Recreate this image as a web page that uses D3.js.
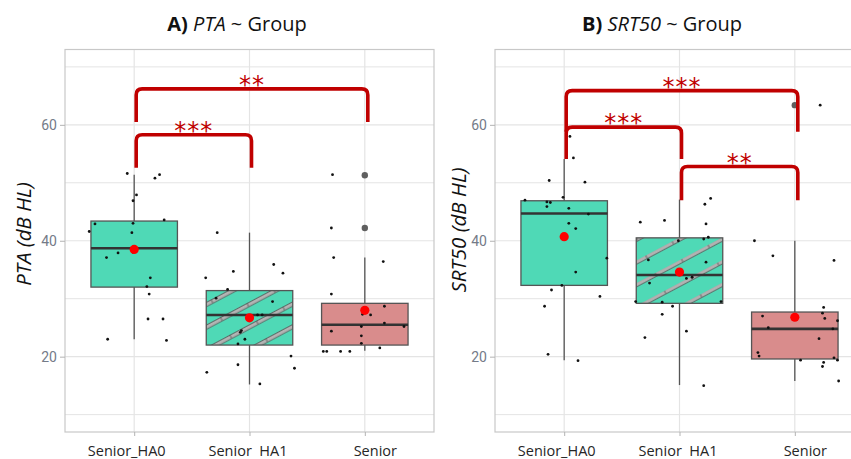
<!DOCTYPE html>
<html>
<head>
<meta charset="utf-8">
<script src="https://cdn.jsdelivr.net/npm/d3@7"></script>
<style>
  body { margin: 0; background: #fff; }
  svg { display: block; }
</style>
</head>
<body>
<div id="chart"></div>
<script>
// groups on the x axis
const groups = ["Senior_HA0", "Senior_HA1", "Senior"];
const groupLabels = ["Senior_HA0", "Senior  HA1", "Senior"];
const yTicks = [20, 40, 60];
const yMinorTicks = [10, 30, 50, 70];

// box stats: [lower whisker, q1, median, q3, upper whisker, mean]
const ptaStats = [
    [23.0, 32.0, 38.7, 43.4, 51.4, 38.5],
    [15.2, 22.0, 27.2, 31.4, 41.4, 26.7],
    [21.0, 22.0, 25.5, 29.2, 37.1, 28.0]
];
const srtStats = [
    [19.4, 32.3, 44.7, 46.9, 54.1, 40.7],
    [15.1, 29.2, 34.1, 40.5, 47.1, 34.6],
    [15.8, 19.6, 24.8, 27.7, 40.0, 26.8]
];

// jittered points: [group index, jitter (in category steps), value]
const ptaPoints = [
    [0, -0.06, 51.6], [0, 0.18, 50.8], [0, 0.22, 51.4], [0, 0.02, 47.9], [0, -0.01, 46.9],
    [0, -0.34, 42.9], [0, -0.01, 43.0], [0, 0.26, 43.6], [0, -0.39, 41.6], [0, -0.02, 41.4],
    [0, -0.24, 37.1], [0, -0.14, 37.9], [0, -0.01, 38.0], [0, 0.14, 33.6], [0, 0.11, 32.1],
    [0, 0.13, 30.8], [0, 0.12, 26.5], [0, 0.25, 26.5], [0, -0.23, 23.0], [0, 0.28, 22.8],
    [1, -0.28, 41.4], [1, -0.38, 33.6], [1, -0.14, 34.7], [1, 0.21, 35.9], [1, 0.29, 34.4],
    [1, -0.19, 31.6], [1, -0.29, 30.1], [1, 0.20, 29.5], [1, 0.07, 27.2], [1, 0.11, 27.2],
    [1, -0.07, 24.5], [1, -0.08, 24.2], [1, -0.04, 23.0], [1, -0.10, 22.2], [1, 0.36, 20.1],
    [1, 0.39, 18.0], [1, -0.10, 18.6], [1, -0.37, 17.3], [1, 0.09, 15.3],
    [2, -0.29, 42.2], [2, -0.28, 51.4], [2, -0.27, 37.1], [2, 0.16, 36.4], [2, -0.29, 30.8],
    [2, 0.17, 28.7], [2, -0.02, 27.3], [2, 0.05, 27.2], [2, -0.01, 28.0], [2, 0.17, 25.8],
    [2, 0.34, 25.2], [2, -0.03, 25.2], [2, -0.29, 24.4], [2, -0.03, 23.6], [2, -0.03, 22.3],
    [2, 0.13, 21.5], [2, -0.36, 20.9], [2, -0.33, 20.9], [2, -0.21, 20.9], [2, -0.13, 20.9]
];
const srtPoints = [
    [0, 0.05, 58.0], [0, 0.08, 54.3], [0, -0.13, 50.4], [0, 0.18, 50.1], [0, -0.01, 47.5],
    [0, -0.34, 47.0], [0, -0.15, 46.7], [0, -0.12, 46.6], [0, -0.15, 45.9], [0, 0.04, 45.6],
    [0, 0.21, 44.6], [0, 0.04, 43.0], [0, 0.10, 42.1], [0, 0.37, 37.0], [0, 0.10, 34.6],
    [0, -0.02, 32.3], [0, -0.11, 31.5], [0, 0.31, 30.4], [0, -0.17, 28.7], [0, -0.14, 20.4],
    [0, 0.12, 19.3],
    [1, 0.27, 47.3], [1, 0.22, 46.3], [1, -0.34, 43.2], [1, -0.13, 43.5], [1, 0.23, 42.9],
    [1, 0.25, 40.6], [1, 0.21, 40.3], [1, -0.01, 40.0], [1, -0.27, 36.7], [1, 0.23, 36.3],
    [1, 0.06, 33.5], [1, 0.11, 33.7], [1, -0.26, 32.7], [1, -0.15, 29.4], [1, -0.38, 29.5],
    [1, -0.06, 28.7], [1, -0.15, 27.3], [1, 0.06, 24.4], [1, -0.30, 23.3], [1, 0.21, 15.0],
    [1, 0.36, 29.5],
    [2, 0.22, 63.4], [2, -0.35, 40.0], [2, -0.19, 37.4], [2, 0.34, 36.6], [2, 0.25, 28.5],
    [2, 0.24, 27.5], [2, 0.26, 26.6], [2, -0.28, 27.0], [2, 0.37, 26.2], [2, -0.23, 25.0],
    [2, 0.33, 24.8], [2, 0.21, 23.1], [2, -0.32, 20.7], [2, -0.31, 20.1], [2, 0.05, 19.4],
    [2, 0.34, 19.8], [2, 0.37, 19.4], [2, 0.25, 19.0], [2, 0.24, 18.3], [2, 0.38, 15.8]
];

// boxplot outliers: [group index, value]
const ptaOutliers = [[2, 42.2], [2, 51.3]];
const srtOutliers = [[2, 63.4]];

// significance brackets: [from group, to group, bar value, leg end value, label]
const ptaBrackets = [
    [0, 1, 58.3, 52.6, "***"],
    [0, 2, 66.2, 60.5, "**"]
];
const srtBrackets = [
    [0, 1, 59.6, 54.1, "***"],
    [0, 2, 65.9, 58.8, "***"],
    [1, 2, 52.8, 47.0, "**"]
];

const width = 851;
const height = 459;

const svg = d3.select("#chart")
    .append("svg")
    .attr("width", width)
    .attr("height", height)
    .style("font-family", "'Open Sans', sans-serif");

const defs = svg.append("defs");

const turquoise = "#4fd9b6";
const rose = "#d98c8c";
const darkRed = "#c00000";
const gridColor = "#e4e4e4";
const borderColor = "#c8c8c8";

// the x labels sit a little off their ticks in the original
const labelShift = [-8, -2, 10];

const drawPanel = (p) => {

    const panelTop = 49.5;
    const panelBottom = 432;
    const panelWidth = 369;

    const xScale = d3.scalePoint()
        .domain(groups)
        .range([p.left, p.left + panelWidth])
        .padding(0.6);

    const yScale = d3.scaleLinear()
        .domain([7, 73])
        .range([panelBottom, panelTop]);

    const step = xScale.step();
    const xPos = i => xScale(groups[i]);

    // stripe pattern for HA1
    const pat = defs.append("pattern")
        .attr("id", p.id + "-stripes")
        .attr("patternUnits", "userSpaceOnUse")
        .attr("width", 30)
        .attr("height", 20)
        .attr("patternTransform",
            `translate(${xPos(1) - step * 0.375}, ${yScale(p.stats[1][3])}) rotate(-28)`);
    pat.append("rect")
        .attr("x", 0).attr("y", p.stripePhase - 1.8)
        .attr("width", 30).attr("height", 3.6)
        .attr("fill", "#b4b4b4")
        .attr("stroke", "#505050")
        .attr("stroke-width", 0.75);

    const g = svg.append("g");

    // grid
    g.selectAll(".minor")
        .data(yMinorTicks)
        .join("line")
            .attr("x1", p.left).attr("x2", p.left + panelWidth)
            .attr("y1", d => yScale(d)).attr("y2", d => yScale(d))
            .attr("stroke", gridColor).attr("stroke-width", 1);

    g.selectAll(".major")
        .data(yTicks)
        .join("line")
            .attr("x1", p.left).attr("x2", p.left + panelWidth)
            .attr("y1", d => yScale(d)).attr("y2", d => yScale(d))
            .attr("stroke", gridColor).attr("stroke-width", 1.2);

    g.selectAll(".vgrid")
        .data(groups)
        .join("line")
            .attr("x1", d => xScale(d)).attr("x2", d => xScale(d))
            .attr("y1", panelTop).attr("y2", panelBottom)
            .attr("stroke", gridColor).attr("stroke-width", 1.2);

    // boxes
    p.stats.forEach((s, i) => {
        const cx = xPos(i);
        const bw = step * 0.75;
        g.append("line")
            .attr("x1", cx).attr("x2", cx)
            .attr("y1", yScale(s[0])).attr("y2", yScale(s[4]))
            .attr("stroke", "#555").attr("stroke-width", 1.3);
        g.append("rect")
            .attr("x", cx - bw / 2)
            .attr("y", yScale(s[3]))
            .attr("width", bw)
            .attr("height", yScale(s[1]) - yScale(s[3]))
            .attr("fill", i === 2 ? rose : turquoise);
        if (i === 1) {
            g.append("rect")
                .attr("x", cx - bw / 2)
                .attr("y", yScale(s[3]))
                .attr("width", bw)
                .attr("height", yScale(s[1]) - yScale(s[3]))
                .attr("fill", `url(#${p.id}-stripes)`);
        }
        g.append("rect")
            .attr("x", cx - bw / 2)
            .attr("y", yScale(s[3]))
            .attr("width", bw)
            .attr("height", yScale(s[1]) - yScale(s[3]))
            .attr("fill", "none")
            .attr("stroke", "#555").attr("stroke-width", 1.3);
        g.append("line")
            .attr("x1", cx - bw / 2).attr("x2", cx + bw / 2)
            .attr("y1", yScale(s[2])).attr("y2", yScale(s[2]))
            .attr("stroke", "#333").attr("stroke-width", 2.6);
    });

    // outliers
    g.selectAll(".outlier")
        .data(p.outliers)
        .join("circle")
            .attr("cx", d => xPos(d[0]))
            .attr("cy", d => yScale(d[1]))
            .attr("r", 3.2)
            .attr("fill", "#5f5f5f");

    // jittered observations
    g.selectAll(".pt")
        .data(p.points)
        .join("circle")
            .attr("cx", d => xPos(d[0]) + d[1] * step)
            .attr("cy", d => yScale(d[2]))
            .attr("r", 1.4)
            .attr("fill", "#111");

    // means
    g.selectAll(".mean")
        .data(p.stats)
        .join("circle")
            .attr("cx", (d, i) => xPos(i))
            .attr("cy", d => yScale(d[5]))
            .attr("r", 4.6)
            .attr("fill", "#ff0000");

    // panel border
    g.append("rect")
        .attr("x", p.left).attr("y", panelTop)
        .attr("width", panelWidth).attr("height", panelBottom - panelTop)
        .attr("fill", "none")
        .attr("stroke", borderColor).attr("stroke-width", 1.2);

    // axes
    const leftAxis = d3.axisLeft(yScale)
        .tickValues(yTicks)
        .tickSize(5)
        .tickPadding(3);

    const yAxis = g.append("g")
        .attr("transform", `translate(${p.left}, 0)`)
        .call(leftAxis);
    yAxis.select(".domain").remove();
    yAxis.selectAll("line").attr("stroke", "#b3b3b3");
    yAxis.selectAll("text")
        .attr("fill", "#747b88")
        .style("font-family", "Roboto, sans-serif")
        .style("font-size", "14px");

    const bottomAxis = d3.axisBottom(xScale)
        .tickSize(4)
        .tickPadding(10)
        .tickFormat((d, i) => groupLabels[i]);

    const xAxis = g.append("g")
        .attr("transform", `translate(0, ${panelBottom})`)
        .call(bottomAxis);
    xAxis.select(".domain").remove();
    xAxis.selectAll("line").attr("stroke", "#b3b3b3");
    xAxis.selectAll("text")
        .attr("dx", (d, i) => labelShift[i])
        .attr("fill", "#262626")
        .style("white-space", "pre")
        .style("font-family", "'Open Sans', sans-serif")
        .style("font-size", "14.5px");

    // brackets
    p.brackets.forEach(b => {
        const x1 = xPos(b[0]) + 2;
        const x2 = xPos(b[1]) + (b[1] === 2 ? 3 : 2);
        const yb = yScale(b[2]);
        const yl = yScale(b[3]);
        const r = 6;
        g.append("path")
            .attr("d", `M${x1},${yl} L${x1},${yb + r} Q${x1},${yb} ${x1 + r},${yb} ` +
                       `L${x2 - r},${yb} Q${x2},${yb} ${x2},${yb + r} L${x2},${yl}`)
            .attr("fill", "none")
            .attr("stroke", darkRed)
            .attr("stroke-width", 3.6);
        g.append("text")
            .text(b[4])
            .attr("x", (x1 + x2) / 2)
            .attr("y", yb + 4)
            .attr("text-anchor", "middle")
            .attr("fill", darkRed)
            .style("font-family", "'DejaVu Sans', sans-serif")
            .style("font-size", "24px")
            .style("letter-spacing", "1px");
    });

    // titles
    const title = svg.append("text")
        .attr("x", p.titleX)
        .attr("y", 31)
        .attr("text-anchor", "middle")
        .attr("fill", "#111")
        .style("font-size", "20px");
    title.append("tspan").text(p.title[0]).style("font-weight", "bold");
    title.append("tspan").text(p.title[1]).style("font-style", "italic");
    title.append("tspan").text(p.title[2]);

    svg.append("text")
        .text(p.yTitle)
        .attr("transform", `translate(${p.yTitleX}, ${p.yTitleY}) rotate(-90)`)
        .attr("text-anchor", "middle")
        .attr("dominant-baseline", "middle")
        .attr("fill", "#111")
        .style("font-style", "italic")
        .style("font-size", "20.5px");
};

drawPanel({
    id: "pta",
    left: 65,
    stats: ptaStats,
    points: ptaPoints,
    outliers: ptaOutliers,
    brackets: ptaBrackets,
    title: ["A) ", "PTA", " ~ Group"],
    titleX: 237,
    yTitle: "PTA (dB HL)",
    yTitleX: 26,
    yTitleY: 234,
    stripePhase: 12.4
});

drawPanel({
    id: "srt",
    left: 495,
    stats: srtStats,
    points: srtPoints,
    outliers: srtOutliers,
    brackets: srtBrackets,
    title: ["B) ", "SRT50", " ~ Group"],
    titleX: 662,
    yTitle: "SRT50 (dB HL)",
    yTitleX: 461,
    yTitleY: 230,
    stripePhase: 1.5
});
</script>
</body>
</html>
